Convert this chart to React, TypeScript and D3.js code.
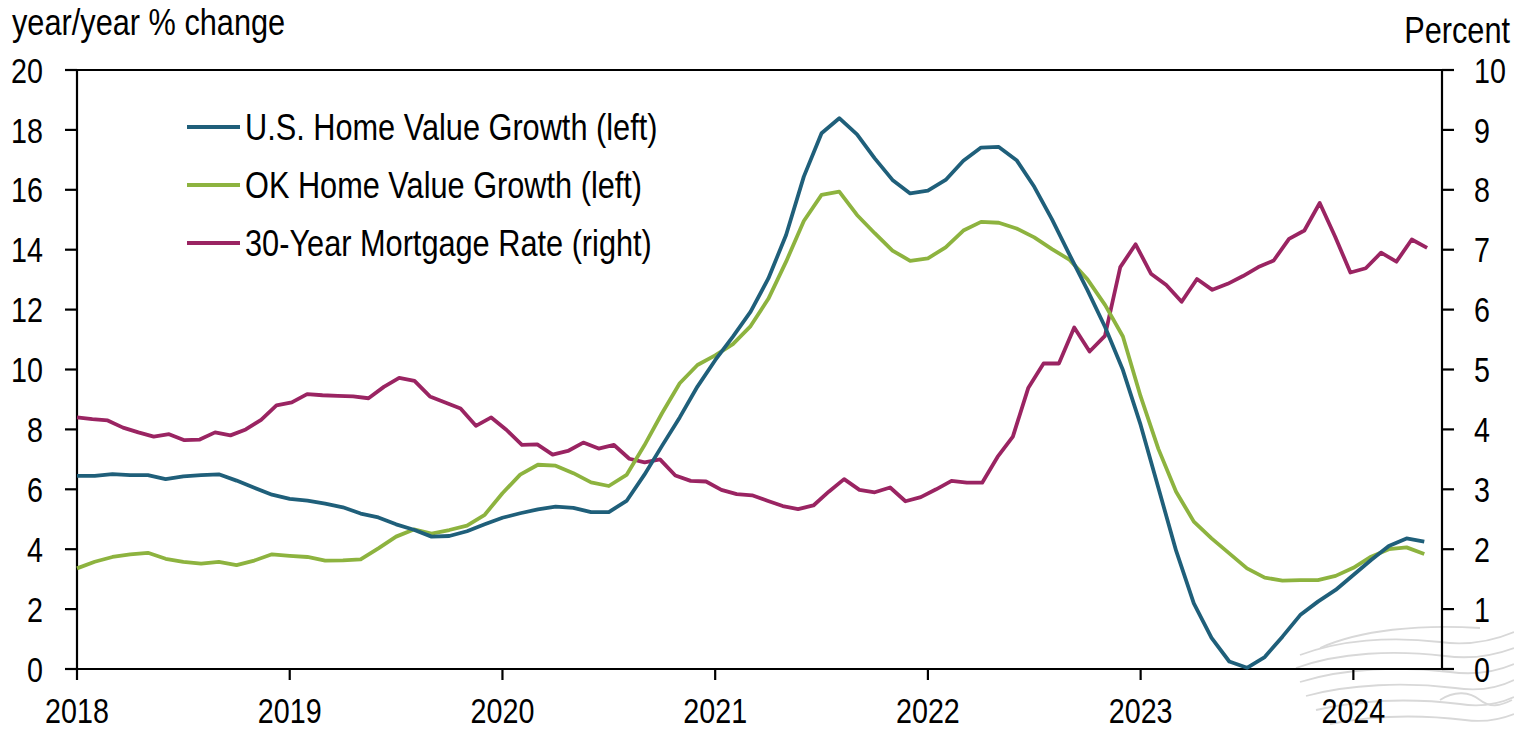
import React from "react";
import * as d3 from "d3";

// Monthly series, Jan 2018 .. May 2024 (year/year % change)
const usHomeValueGrowth = [
  6.45, 6.45, 6.51, 6.47, 6.47, 6.34, 6.43, 6.47, 6.5, 6.29, 6.05, 5.82,
  5.68, 5.62, 5.52, 5.4, 5.19, 5.06, 4.83, 4.65, 4.42, 4.44, 4.6, 4.83,
  5.05, 5.2, 5.33, 5.42, 5.38, 5.24, 5.24, 5.61, 6.48, 7.45, 8.4, 9.43,
  10.31, 11.1, 11.93, 13.04, 14.49, 16.44, 17.89, 18.39, 17.85, 17.05, 16.33, 15.88,
  15.97, 16.33, 16.97, 17.41, 17.43, 16.99, 16.1, 15.01, 13.82, 12.65, 11.41, 9.98,
  8.15, 6.05, 3.95, 2.19, 1.04, 0.25, 0.04, 0.4, 1.08, 1.8, 2.25, 2.64,
  3.14, 3.64, 4.11, 4.36, 4.25,
];

const okHomeValueGrowth = [
  3.36, 3.58, 3.74, 3.83, 3.88, 3.68, 3.58, 3.52, 3.58, 3.47, 3.62, 3.83,
  3.78, 3.74, 3.62, 3.63, 3.66, 4.03, 4.42, 4.66, 4.52, 4.64, 4.79, 5.15,
  5.87, 6.49, 6.82, 6.79, 6.54, 6.23, 6.11, 6.48, 7.46, 8.54, 9.54, 10.15,
  10.47, 10.85, 11.45, 12.36, 13.6, 14.96, 15.83, 15.94, 15.16, 14.55, 13.97, 13.63,
  13.71, 14.08, 14.64, 14.93, 14.9, 14.71, 14.41, 14.02, 13.66, 13.01, 12.15, 11.1,
  9.1, 7.35, 5.92, 4.92, 4.36, 3.86, 3.36, 3.05, 2.95, 2.97, 2.97, 3.11,
  3.38, 3.75, 4.0, 4.06, 3.84,
];

// 30-year mortgage rate (percent), evenly spaced observations over the same span
const mortgageRate = [
  4.2, 4.17, 4.15, 4.03, 3.95, 3.88, 3.92, 3.82, 3.83, 3.95, 3.9, 4.0,
  4.16, 4.4, 4.45, 4.59, 4.57, 4.56, 4.55, 4.52, 4.71, 4.86, 4.81, 4.55,
  4.45, 4.35, 4.06, 4.2, 3.99, 3.74, 3.75, 3.58, 3.64, 3.78, 3.68, 3.74,
  3.51, 3.45, 3.5, 3.23, 3.14, 3.13, 2.99, 2.92, 2.9, 2.81, 2.72, 2.67,
  2.73, 2.96, 3.17, 2.99, 2.95, 3.03, 2.8, 2.87, 3.0, 3.14, 3.11, 3.11,
  3.54, 3.88, 4.69, 5.1, 5.1, 5.7, 5.3, 5.56, 6.71, 7.09, 6.6, 6.41,
  6.13, 6.51, 6.33, 6.43, 6.56, 6.71, 6.82, 7.18, 7.32, 7.78, 7.22, 6.62,
  6.69, 6.95, 6.8, 7.17, 7.03,
];
// mortgage observations run from month 0 to this month index (months since Jan 2018)
const mortgageLastMonth = 76.16;

const yearLabels = ["2018", "2019", "2020", "2021", "2022", "2023", "2024"];
const leftTicks = [0, 2, 4, 6, 8, 10, 12, 14, 16, 18, 20];
const rightTicks = [0, 1, 2, 3, 4, 5, 6, 7, 8, 9, 10];

const seriesNames = [
  "U.S. Home Value Growth (left)",
  "OK Home Value Growth (left)",
  "30-Year Mortgage Rate (right)",
];
const colors = ["#1f5f7a", "#8db33f", "#9a2462"];

const FONT = "'Liberation Sans', Arial, sans-serif";

function NText(props: {
  x: number;
  y: number;
  anchor?: "start" | "middle" | "end";
  size: number;
  narrow?: number;
  dy?: string;
  children: React.ReactNode;
}) {
  const n = props.narrow ?? 0.82;
  return (
    <text
      transform={`translate(${props.x},${props.y}) scale(${n},1)`}
      textAnchor={props.anchor || "start"}
      fontSize={props.size}
      dy={props.dy}
      fill="#000"
    >
      {props.children}
    </text>
  );
}

export default function App() {
  const W = 1514;
  const H = 731;
  const left = 77;
  const right = 1442;
  const top = 70;
  const bottom = 669;

  const x = d3.scaleLinear().domain([0, 77]).range([left, right]);
  const yL = d3.scaleLinear().domain([0, 20]).range([bottom, top]);
  const yR = d3.scaleLinear().domain([0, 10]).range([bottom, top]);

  const lineL = d3
    .line<number>()
    .x((_, i) => x(i))
    .y((d) => yL(d));
  const mortStep = mortgageLastMonth / (mortgageRate.length - 1);
  const lineR = d3
    .line<number>()
    .x((_, i) => x(i * mortStep))
    .y((d) => yR(d));

  const tickLen = 12;
  const fs = 35;
  const lw = 3.8;

  // faint watermark swirls (bottom right)
  const wm = [
    "M1300,655 C1340,640 1390,636 1440,642 C1470,646 1495,640 1514,632",
    "M1296,668 C1340,652 1395,650 1445,656 C1475,660 1498,654 1514,648",
    "M1300,682 C1345,668 1400,666 1450,672 C1480,676 1500,670 1514,664",
    "M1306,696 C1350,684 1405,682 1455,688 C1482,692 1502,686 1514,680",
    "M1316,710 C1360,700 1410,698 1460,704 C1485,708 1503,702 1514,697",
    "M1330,724 C1370,716 1415,714 1465,720 C1488,723 1504,718 1514,714",
    "M1320,648 C1360,630 1420,624 1480,628",
    "M1440,700 C1455,690 1470,692 1480,700 C1490,708 1500,706 1512,700",
  ];

  return (
    <svg
      width={W}
      height={H}
      style={{ position: "absolute", left: 0, top: 0, background: "#fff" }}
      fontFamily={FONT}
    >
      <g fill="none" stroke="#d8d8d8" strokeWidth={1.8}>
        {wm.map((d, i) => (
          <path key={"wm" + i} d={d} />
        ))}
      </g>

      {/* axis titles */}
      <NText x={12} y={35} size={37} narrow={0.83}>
        year/year % change
      </NText>
      <NText x={1510} y={43} size={37} narrow={0.83} anchor="end">
        Percent
      </NText>

      {/* frame */}
      <g stroke="#000" strokeWidth={2.2} fill="none">
        <line x1={left - tickLen} x2={right + tickLen} y1={top} y2={top} />
        <line x1={left - tickLen} x2={right + tickLen} y1={bottom} y2={bottom} />
        <line x1={left} x2={left} y1={top} y2={bottom} />
        <line x1={right} x2={right} y1={top} y2={bottom} />
        {leftTicks.map((t) => (
          <line key={"lt" + t} x1={left - tickLen} x2={left} y1={yL(t)} y2={yL(t)} />
        ))}
        {rightTicks.map((t) => (
          <line key={"rt" + t} x1={right} x2={right + tickLen} y1={yR(t)} y2={yR(t)} />
        ))}
        {yearLabels.map((yr, i) => (
          <line key={"xt" + yr} x1={x(i * 12)} x2={x(i * 12)} y1={bottom} y2={bottom + 11} />
        ))}
      </g>

      {/* tick labels */}
      {leftTicks.map((t) => (
        <NText key={"ll" + t} x={43} y={yL(t)} dy="0.36em" anchor="end" size={fs}>
          {t}
        </NText>
      ))}
      {rightTicks.map((t) => (
        <NText key={"rl" + t} x={1474} y={yR(t)} dy="0.36em" size={fs}>
          {t}
        </NText>
      ))}
      {yearLabels.map((yr, i) => (
        <NText key={"xl" + yr} x={x(i * 12)} y={723} anchor="middle" size={fs}>
          {yr}
        </NText>
      ))}

      {/* series */}
      <g fill="none" strokeWidth={lw} strokeLinejoin="round">
        <path d={lineR(mortgageRate) || ""} stroke={colors[2]} />
        <path d={lineL(okHomeValueGrowth) || ""} stroke={colors[1]} />
        <path d={lineL(usHomeValueGrowth) || ""} stroke={colors[0]} />
      </g>

      {/* legend */}
      {seriesNames.map((name, i) => (
        <g key={name}>
          <line
            x1={187}
            x2={240}
            y1={127 + i * 58}
            y2={127 + i * 58}
            stroke={colors[i]}
            strokeWidth={lw}
          />
          <NText x={245} y={127 + i * 58} dy="0.36em" size={37} narrow={0.83}>
            {name}
          </NText>
        </g>
      ))}
    </svg>
  );
}
